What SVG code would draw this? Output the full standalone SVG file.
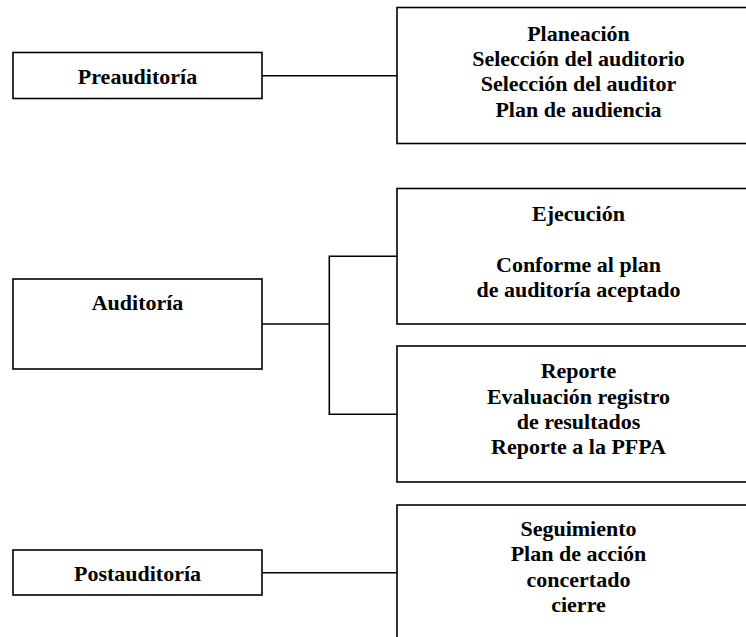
<svg xmlns="http://www.w3.org/2000/svg" width="746" height="637" viewBox="0 0 746 637">
  <style>
    .box { fill: #ffffff; stroke: #000000; stroke-width: 1.6; }
    .conn { fill: none; stroke: #000000; stroke-width: 1.6; }
    .t { font-family: 'Liberation Serif', serif; font-weight: bold; font-size: 22px; fill: #000000; text-anchor: middle; }
  </style>
  <rect width="746" height="637" fill="#ffffff"/>
  <g id="connectors">
    <line class="conn" x1="262" y1="75.7" x2="397" y2="75.7"/>
    <line class="conn" x1="262" y1="324" x2="329.3" y2="324"/>
    <polyline class="conn" points="397,256.3 329.3,256.3 329.3,414.3 397,414.3"/>
    <line class="conn" x1="262" y1="572.7" x2="397" y2="572.7"/>
  </g>
  <g id="preauditoria" font-family="Liberation Serif, serif">
    <rect class="box" x="13" y="52.5" width="249" height="46"/>
    <text class="t" x="137.5" y="84">Preauditoría</text>
  </g>
  <g id="planeacion">
    <rect class="box" x="397" y="7.5" width="363" height="136"/>
    <text class="t" x="578.5" y="40.7">Planeación</text>
    <text class="t" x="578.5" y="66">Selección del auditorio</text>
    <text class="t" x="578.5" y="91.3">Selección del auditor</text>
    <text class="t" x="578.5" y="116.6">Plan de audiencia</text>
  </g>
  <g id="auditoria">
    <rect class="box" x="13" y="279" width="249" height="90"/>
    <text class="t" x="137.5" y="310">Auditoría</text>
  </g>
  <g id="ejecucion">
    <rect class="box" x="397" y="188.5" width="363" height="135.5"/>
    <text class="t" x="578.5" y="220.7">Ejecución</text>
    <text class="t" x="578.5" y="271.5">Conforme al plan</text>
    <text class="t" x="578.5" y="296.8">de auditoría aceptado</text>
  </g>
  <g id="reporte">
    <rect class="box" x="397" y="346" width="363" height="136"/>
    <text class="t" x="578.5" y="378.3">Reporte</text>
    <text class="t" x="578.5" y="403.6">Evaluación registro</text>
    <text class="t" x="578.5" y="428.9">de resultados</text>
    <text class="t" x="578.5" y="454.2">Reporte a la PFPA</text>
  </g>
  <g id="postauditoria">
    <rect class="box" x="13" y="550" width="249" height="45"/>
    <text class="t" x="137.5" y="581">Postauditoría</text>
  </g>
  <g id="seguimiento">
    <rect class="box" x="397" y="505" width="363" height="160"/>
    <text class="t" x="578.5" y="536">Seguimiento</text>
    <text class="t" x="578.5" y="561.3">Plan de acción</text>
    <text class="t" x="578.5" y="586.6">concertado</text>
    <text class="t" x="578.5" y="611.9">cierre</text>
  </g>
</svg>
